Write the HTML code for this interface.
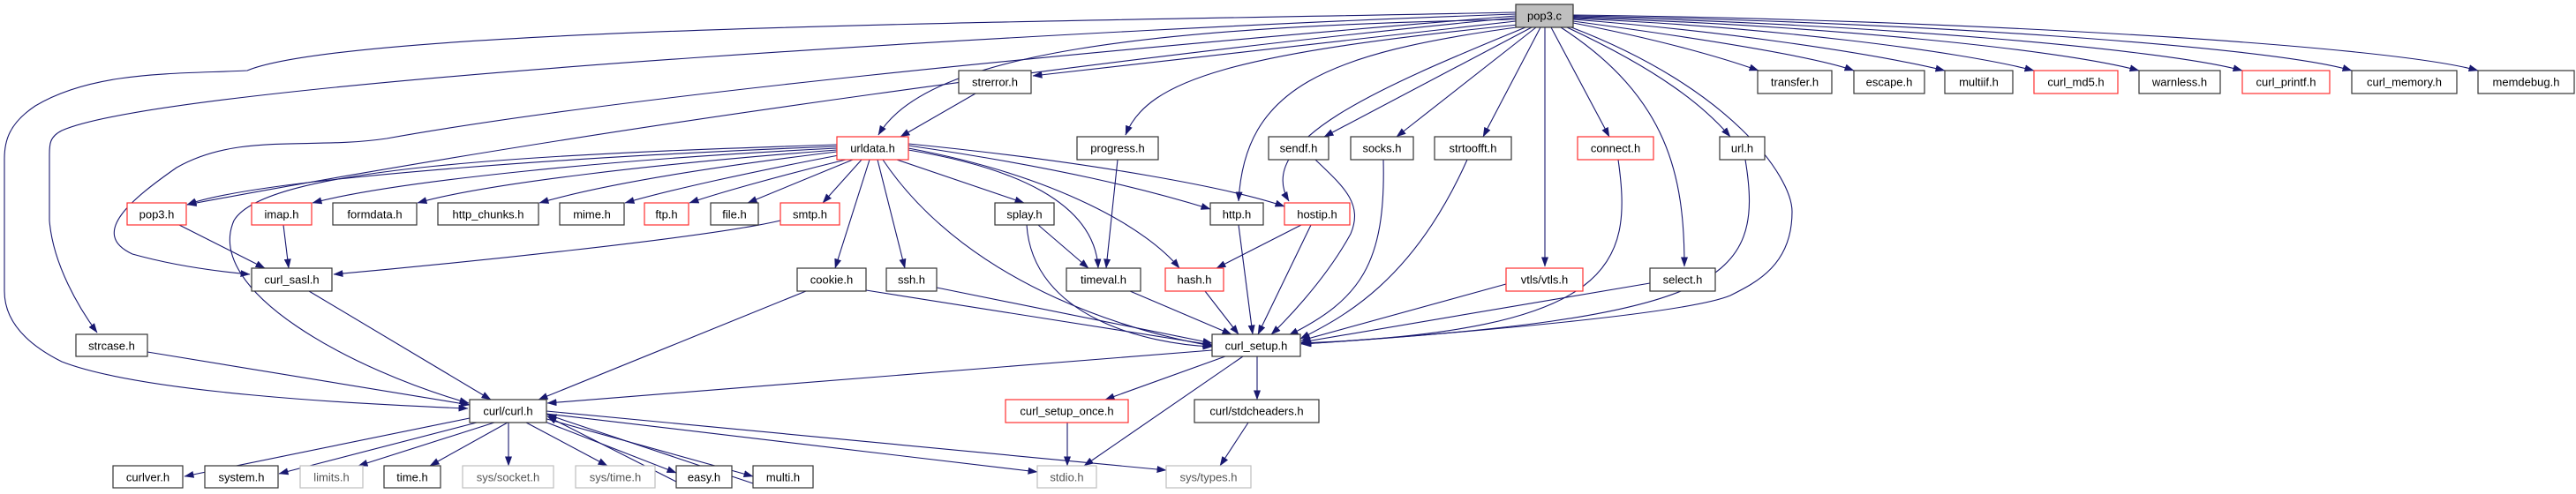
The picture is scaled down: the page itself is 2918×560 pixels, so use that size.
<!DOCTYPE html>
<html><head><meta charset="utf-8"><style>
html,body{margin:0;padding:0;background:#fff;}
svg{display:block;}
text{font-family:"Liberation Sans",sans-serif;font-size:13px;text-anchor:middle;dominant-baseline:central;fill:#000;}
.e{fill:none;stroke:#191970;stroke-width:1.1;marker-end:url(#a);}
.n{fill:#fff;stroke:#333;stroke-width:1.2;}
.r{fill:#fff;stroke:#ff3030;stroke-width:1.2;}
.g{fill:#fff;stroke:#bfbfbf;stroke-width:1.2;}
.gt{fill:#555;}
</style></head><body>
<svg width="2918" height="560" viewBox="0 0 2918 560" xmlns="http://www.w3.org/2000/svg">
<defs><marker id="a" markerWidth="11" markerHeight="8" refX="10.5" refY="4" orient="auto" markerUnits="userSpaceOnUse"><path d="M0,0 L11,4 L0,8 z" fill="#191970"/></marker></defs>
<g>
<!-- pop3.c edges -->
<path class="e" d="M1717,14 C1200,25 400,30 280,80 C200,84 107,80 40,120 C10,140 5,160 5,180 L5,330 C5,370 40,395 70,410 C160,445 400,458 530,463"/>
<path class="e" d="M1717,16 C1300,30 200,90 70,148 C56,155 56,164 56,175 L56,250 C60,300 90,350 110,377"/>
<path class="e" d="M1717,18 C1200,60 700,110 438,157 C350,170 270,150 200,190 C150,225 100,265 150,288 C200,302 250,308 283,311"/>
<path class="e" d="M1717,20 C1300,60 700,140 212,232"/>
<path class="e" d="M1717,22 C1300,30 1050,60 995,153"/>
<path class="e" d="M1717,24 L1170,86"/>
<path class="e" d="M1720,28 C1400,60 1300,90 1275,153"/>
<path class="e" d="M1725,30 C1500,60 1410,100 1403,228"/>
<path class="e" d="M1728,31 C1560,100 1420,160 1460,228"/>
<path class="e" d="M1735,31 L1500,155"/>
<path class="e" d="M1740,31 L1582,155"/>
<path class="e" d="M1745,31 L1680,155"/>
<path class="e" d="M1750,31 L1750,302"/>
<path class="e" d="M1757,31 L1823,155"/>
<path class="e" d="M1768,31 C1890,110 1908,200 1908,302"/>
<path class="e" d="M1775,31 C1880,80 1930,120 1960,155"/>
<path class="e" d="M1780,31 C1960,100 2030,200 2030,240 C2030,300 1990,320 1960,335 C1900,360 1550,385 1475,390"/>
<path class="e" d="M1782,26 C1880,45 1950,65 1992,80"/>
<path class="e" d="M1782,24 C1900,40 2050,62 2100,80"/>
<path class="e" d="M1782,22 C1950,35 2120,60 2203,80"/>
<path class="e" d="M1782,21 C2000,30 2220,58 2304,80"/>
<path class="e" d="M1782,20 C2050,28 2330,55 2423,80"/>
<path class="e" d="M1782,19 C2100,26 2450,55 2540,80"/>
<path class="e" d="M1782,18 C2150,24 2570,52 2664,80"/>
<path class="e" d="M1782,17 C2200,22 2700,50 2807,80"/>
<!-- urldata edges -->
<path class="e" d="M948,166 C700,175 300,200 212,232"/>
<path class="e" d="M948,168 C700,180 450,205 354,230"/>
<path class="e" d="M948,170 C750,185 550,208 473,230"/>
<path class="e" d="M948,172 C800,190 680,210 611,230"/>
<path class="e" d="M950,176 C850,195 760,215 708,230"/>
<path class="e" d="M958,181 C880,200 810,220 781,230"/>
<path class="e" d="M966,181 L847,230"/>
<path class="e" d="M976,181 L932,230"/>
<path class="e" d="M985,181 L946,304"/>
<path class="e" d="M994,181 L1025,304"/>
<path class="e" d="M1000,181 C1100,330 1300,380 1373,392"/>
<path class="e" d="M1016,181 L1160,230"/>
<path class="e" d="M1029,170 C1150,190 1240,230 1244,304"/>
<path class="e" d="M1029,168 C1200,200 1300,260 1336,304"/>
<path class="e" d="M1029,165 C1200,190 1300,215 1371,237"/>
<path class="e" d="M1029,163 C1250,185 1400,215 1455,234"/>
<path class="e" d="M948,164 C600,175 300,190 265,250 C230,330 400,420 531,457"/>
<path class="e" d="M1105,106 L1020,155"/>
<path class="e" d="M1266,181 L1253,304"/>
<path class="e" d="M1176,255 L1233,304"/>
<path class="e" d="M1163,255 C1170,360 1300,390 1373,393"/>
<path class="e" d="M1474,255 L1378,304"/>
<path class="e" d="M1485,255 L1425,379"/>
<path class="e" d="M1403,255 L1419,379"/>
<path class="e" d="M1490,181 C1520,210 1545,230 1530,265 C1500,320 1450,370 1440,379"/>
<path class="e" d="M1567,181 C1570,300 1540,340 1460,380"/>
<path class="e" d="M1662,181 C1600,320 1520,360 1473,384"/>
<path class="e" d="M1833,181 C1850,300 1830,375 1474,389"/>
<path class="e" d="M1977,181 C2000,320 1950,360 1474,390"/>
<path class="e" d="M1706,322 L1474,386"/>
<path class="e" d="M1869,321 L1474,388"/>
<path class="e" d="M981,329 L1373,391"/>
<path class="e" d="M913,330 L610,453"/>
<path class="e" d="M1061,326 L1373,389"/>
<path class="e" d="M1280,330 L1395,379"/>
<path class="e" d="M1365,330 L1403,379"/>
<path class="e" d="M203,255 L300,304"/>
<path class="e" d="M321,255 L327,304"/>
<path class="e" d="M884,250 C800,270 500,300 378,311"/>
<path class="e" d="M350,330 L556,453"/>
<path class="e" d="M167,399 L532,459"/>
<path class="e" d="M1373,397 L620,457"/>
<path class="e" d="M1388,404 L1252,453"/>
<path class="e" d="M1408,404 L1228,528"/>
<path class="e" d="M1424,404 L1424,453"/>
<path class="e" d="M1209,479 L1209,528"/>
<path class="e" d="M1414,479 L1382,528"/>
<path class="e" d="M532,474 L209,540"/>
<path class="e" d="M540,479 L316,537"/>
<path class="e" d="M560,479 L406,528"/>
<path class="e" d="M575,479 L487,528"/>
<path class="e" d="M576,479 L576,528"/>
<path class="e" d="M596,479 L688,528"/>
<path class="e" d="M612,476 L766,536"/>
<path class="e" d="M766,546 L620,472"/>
<path class="e" d="M616,474 L853,540"/>
<path class="e" d="M853,548 L620,470"/>
<path class="e" d="M619,469 L1175,535"/>
<path class="e" d="M619,466 L1321,533"/>
</g>
<g>
<rect x="1717" y="5" width="65" height="26" fill="#bfbfbf" stroke="#333" stroke-width="1.2"/><text x="1749.5" y="18">pop3.c</text>
<rect class="n" x="1086" y="80" width="82" height="26"/><text x="1127" y="93">strerror.h</text>
<rect class="n" x="1991" y="80" width="84" height="26"/><text x="2033" y="93">transfer.h</text>
<rect class="n" x="2100" y="80" width="80" height="26"/><text x="2140" y="93">escape.h</text>
<rect class="n" x="2203" y="80" width="77" height="26"/><text x="2241.5" y="93">multiif.h</text>
<rect class="r" x="2304" y="80" width="95" height="26"/><text x="2351.5" y="93">curl_md5.h</text>
<rect class="n" x="2423" y="80" width="92" height="26"/><text x="2469" y="93">warnless.h</text>
<rect class="r" x="2540" y="80" width="99" height="26"/><text x="2589.5" y="93">curl_printf.h</text>
<rect class="n" x="2664" y="80" width="119" height="26"/><text x="2723.5" y="93">curl_memory.h</text>
<rect class="n" x="2807" y="80" width="109" height="26"/><text x="2861.5" y="93">memdebug.h</text>
<rect class="r" x="948" y="155" width="81" height="26"/><text x="988.5" y="168">urldata.h</text>
<rect class="n" x="1220" y="155" width="92" height="26"/><text x="1266" y="168">progress.h</text>
<rect class="n" x="1437" y="155" width="68" height="26"/><text x="1471" y="168">sendf.h</text>
<rect class="n" x="1530" y="155" width="71" height="26"/><text x="1565.5" y="168">socks.h</text>
<rect class="n" x="1625" y="155" width="87" height="26"/><text x="1668.5" y="168">strtoofft.h</text>
<rect class="r" x="1787" y="155" width="86" height="26"/><text x="1830" y="168">connect.h</text>
<rect class="n" x="1948" y="155" width="51" height="26"/><text x="1973.5" y="168">url.h</text>
<rect class="r" x="144" y="230" width="67" height="25"/><text x="177.5" y="243">pop3.h</text>
<rect class="r" x="285" y="230" width="68" height="25"/><text x="319" y="243">imap.h</text>
<rect class="n" x="377" y="230" width="95" height="25"/><text x="424.5" y="243">formdata.h</text>
<rect class="n" x="496" y="230" width="114" height="25"/><text x="553" y="243">http_chunks.h</text>
<rect class="n" x="634" y="230" width="73" height="25"/><text x="670.5" y="243">mime.h</text>
<rect class="r" x="730" y="230" width="50" height="25"/><text x="755" y="243">ftp.h</text>
<rect class="n" x="805" y="230" width="54" height="25"/><text x="832" y="243">file.h</text>
<rect class="r" x="884" y="230" width="67" height="25"/><text x="917.5" y="243">smtp.h</text>
<rect class="n" x="1127" y="230" width="67" height="25"/><text x="1160.5" y="243">splay.h</text>
<rect class="n" x="1371" y="230" width="60" height="25"/><text x="1401" y="243">http.h</text>
<rect class="r" x="1455" y="230" width="74" height="25"/><text x="1492" y="243">hostip.h</text>
<rect class="n" x="285" y="304" width="91" height="26"/><text x="330.5" y="317">curl_sasl.h</text>
<rect class="n" x="903" y="304" width="78" height="26"/><text x="942" y="317">cookie.h</text>
<rect class="n" x="1004" y="304" width="57" height="26"/><text x="1032.5" y="317">ssh.h</text>
<rect class="n" x="1208" y="304" width="84" height="26"/><text x="1250" y="317">timeval.h</text>
<rect class="r" x="1320" y="304" width="66" height="26"/><text x="1353" y="317">hash.h</text>
<rect class="r" x="1706" y="304" width="87" height="26"/><text x="1749.5" y="317">vtls/vtls.h</text>
<rect class="n" x="1869" y="304" width="74" height="26"/><text x="1906" y="317">select.h</text>
<rect class="n" x="86" y="379" width="81" height="25"/><text x="126.5" y="392">strcase.h</text>
<rect class="n" x="1373" y="379" width="100" height="25"/><text x="1423" y="392">curl_setup.h</text>
<rect class="n" x="532" y="453" width="87" height="26"/><text x="575.5" y="466">curl/curl.h</text>
<rect class="r" x="1139" y="453" width="139" height="26"/><text x="1208.5" y="466">curl_setup_once.h</text>
<rect class="n" x="1353" y="453" width="141" height="26"/><text x="1423.5" y="466">curl/stdcheaders.h</text>
<rect class="n" x="128" y="528" width="79" height="25"/><text x="167.5" y="541">curlver.h</text>
<rect class="n" x="232" y="528" width="83" height="25"/><text x="273.5" y="541">system.h</text>
<rect class="g" x="340" y="528" width="71" height="25"/><text class="gt" x="375.5" y="541">limits.h</text>
<rect class="n" x="435" y="528" width="64" height="25"/><text x="467" y="541">time.h</text>
<rect class="g" x="524" y="528" width="103" height="25"/><text class="gt" x="575.5" y="541">sys/socket.h</text>
<rect class="g" x="652" y="528" width="90" height="25"/><text class="gt" x="697" y="541">sys/time.h</text>
<rect class="n" x="766" y="528" width="63" height="25"/><text x="797.5" y="541">easy.h</text>
<rect class="n" x="853" y="528" width="68" height="25"/><text x="887" y="541">multi.h</text>
<rect class="g" x="1175" y="528" width="67" height="25"/><text class="gt" x="1208.5" y="541">stdio.h</text>
<rect class="g" x="1321" y="528" width="96" height="25"/><text class="gt" x="1369" y="541">sys/types.h</text>
</g>
</svg>
</body></html>
